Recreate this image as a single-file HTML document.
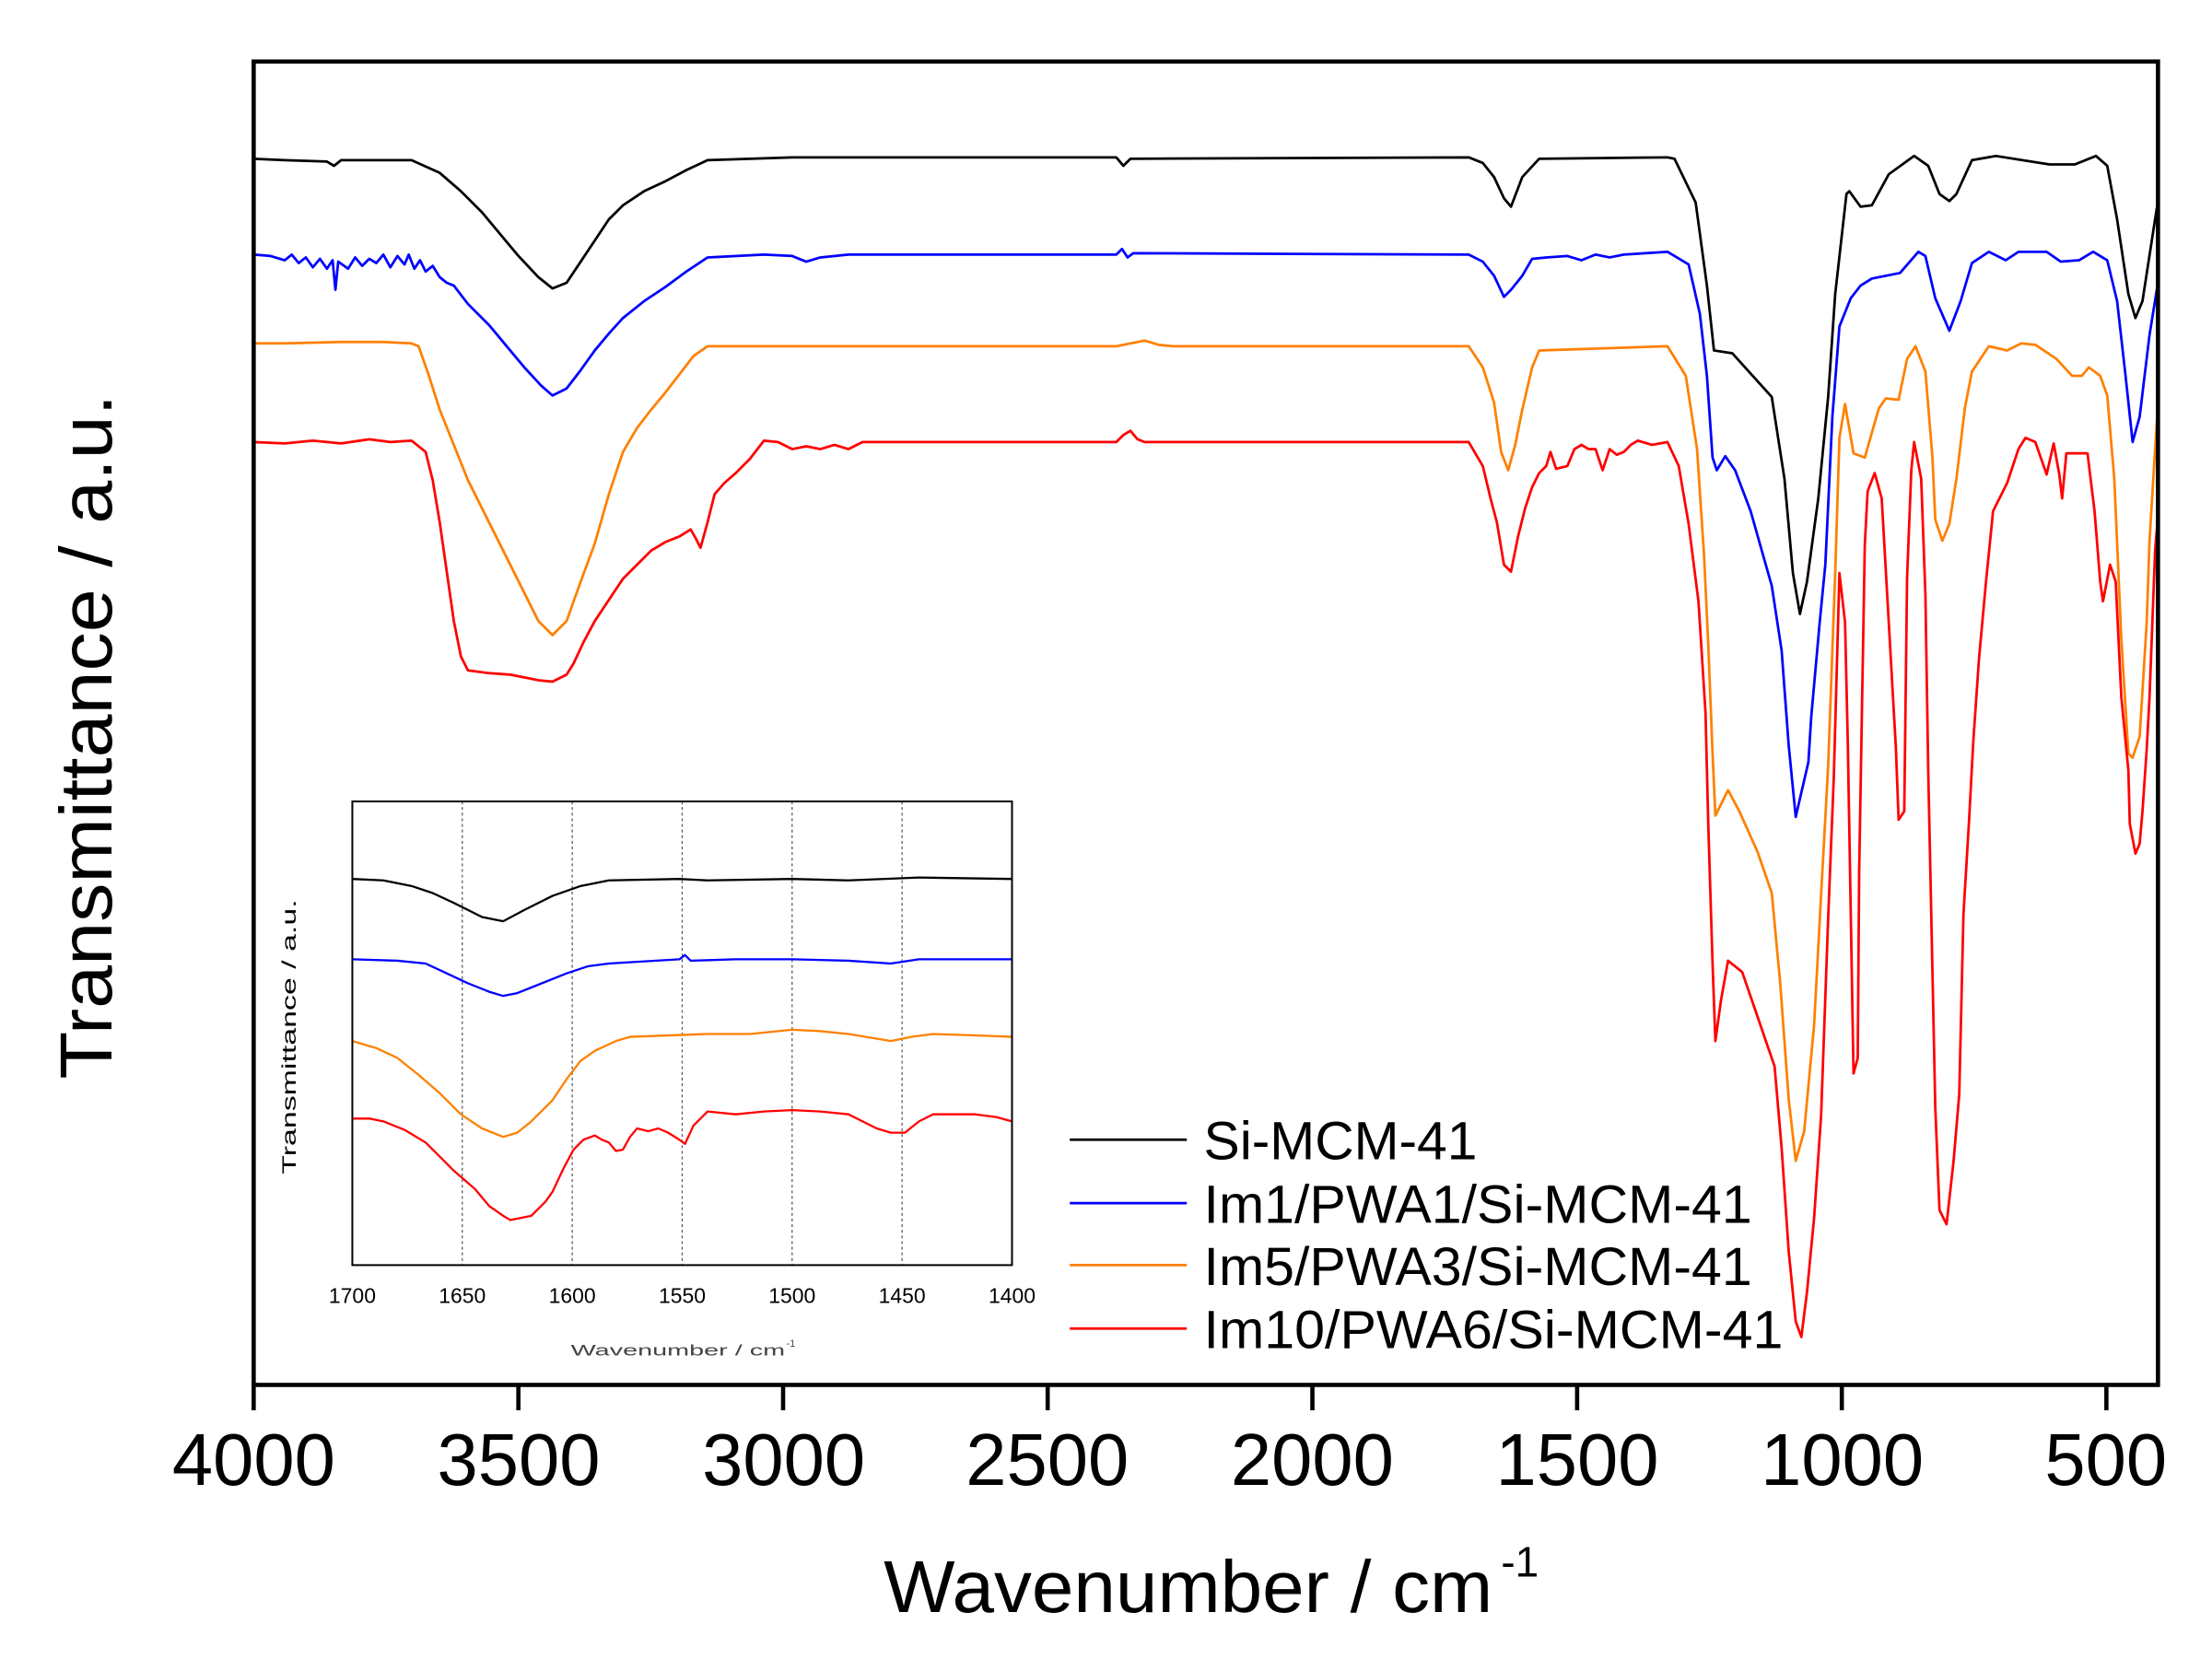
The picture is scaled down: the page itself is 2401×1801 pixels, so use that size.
<!DOCTYPE html>
<html><head><meta charset="utf-8"><style>
html,body{margin:0;padding:0;background:#fff}
svg{display:block}
text{font-family:"Liberation Sans",Arial,sans-serif}
</style></head><body>
<svg width="2401" height="1801" viewBox="0 0 2401 1801" xmlns="http://www.w3.org/2000/svg">
<defs><clipPath id="pc"><rect x="178" y="43" width="1351" height="939"/></clipPath></defs>
<g transform="translate(3,1) scale(1.53)">
<g clip-path="url(#pc)" fill="none" stroke-width="1.8" stroke-linejoin="round">
<polyline stroke="#000" points="178,112 200,113 230,114 235,117 240,113 290,113 310,122 325,135 340,150 365,180 380,196 390,204 400,200 410,185 420,170 430,155 440,145 455,135 470,128 485,120 500,113 560,111 790,111 795,117 800,112 1040,111 1050,115 1058,125 1065,140 1070,146 1078,125 1090,112 1181,111 1186,112 1201,143 1209,202 1214,248 1227,250 1255,281 1264,339 1270,406 1275,435 1280,412 1288,353 1295,281 1300,208 1308,137 1310,135 1318,146 1326,145 1338,123 1356,110 1366,117 1374,137 1381,142 1386,137 1397,113 1414,110 1452,116 1470,116 1485,110 1493,117 1500,155 1508,208 1513,225 1518,213 1526,161 1531,129"/>
<polyline stroke="#0000ff" points="178,180 190,181 200,184 205,180 210,186 215,182 220,189 225,183 230,190 234,184 236,205 238,185 245,190 250,182 255,188 260,183 265,186 270,180 275,189 280,181 285,187 288,180 292,190 296,184 300,192 305,188 310,196 315,200 320,202 330,215 345,230 360,248 370,260 382,273 390,280 400,275 410,262 420,248 430,236 440,225 455,213 470,203 485,192 500,182 540,180 560,181 570,185 580,182 600,180 790,180 794,176 798,182 802,179 1040,180 1050,185 1058,195 1065,210 1070,205 1078,195 1085,183 1095,182 1110,181 1120,184 1130,180 1140,182 1150,180 1181,178 1196,187 1204,222 1209,266 1213,324 1216,333 1222,323 1229,333 1240,362 1255,415 1262,461 1267,528 1272,579 1281,540 1283,508 1289,441 1293,400 1298,295 1303,231 1311,211 1318,202 1326,197 1346,193 1359,178 1364,181 1371,211 1381,234 1389,213 1397,186 1409,178 1421,184 1430,178 1450,178 1460,185 1473,184 1483,178 1493,184 1500,213 1506,266 1511,313 1516,295 1523,237 1532,181"/>
<polyline stroke="#ff8000" points="178,243 200,243 240,242 270,242 290,243 295,245 302,265 310,290 320,315 330,340 345,370 360,400 370,420 380,440 390,450 400,440 410,412 420,385 430,350 440,320 450,303 460,290 470,278 480,265 490,252 500,245 560,245 790,245 800,243 810,241 820,244 830,245 1040,245 1050,260 1058,285 1063,320 1068,333 1073,315 1078,290 1085,260 1090,248 1181,245 1194,266 1202,318 1207,394 1210,458 1213,534 1215,578 1224,560 1232,575 1245,604 1255,633 1261,697 1267,779 1272,823 1278,802 1285,727 1291,616 1295,543 1300,406 1303,310 1307,286 1313,321 1321,324 1331,289 1336,282 1345,283 1351,254 1357,245 1364,263 1369,324 1371,368 1376,383 1381,371 1386,339 1392,289 1397,263 1409,245 1422,248 1432,243 1442,244 1457,254 1468,266 1475,266 1480,260 1488,266 1493,280 1498,339 1503,453 1508,534 1511,537 1516,522 1521,441 1523,383 1528,301 1532,254"/>
<polyline stroke="#ff0000" points="178,313 200,314 220,312 240,314 260,311 275,313 290,312 300,320 305,340 310,370 315,405 320,440 325,465 330,475 345,477 360,478 370,480 380,482 390,483 400,478 405,470 412,455 420,440 430,425 440,410 450,400 460,390 470,384 480,380 488,375 492,382 495,388 500,370 505,350 512,342 520,335 530,325 540,312 550,313 560,318 570,316 580,318 590,315 600,318 610,313 620,313 790,313 795,308 800,305 805,311 810,313 1040,313 1050,330 1056,355 1060,370 1065,400 1070,405 1075,380 1080,360 1085,345 1090,335 1095,330 1098,320 1102,332 1110,330 1115,318 1120,315 1125,318 1130,318 1135,333 1140,318 1145,322 1150,320 1155,315 1160,312 1170,315 1181,313 1189,330 1196,371 1203,426 1208,505 1210,586 1213,683 1215,738 1219,709 1224,681 1234,689 1245,721 1257,756 1262,814 1267,887 1272,937 1276,948 1280,916 1285,864 1290,791 1295,651 1299,551 1303,406 1307,441 1309,529 1311,645 1313,761 1316,750 1317,618 1321,386 1323,348 1328,335 1333,353 1338,441 1343,529 1345,581 1349,575 1351,409 1354,333 1356,313 1361,339 1364,421 1366,546 1369,689 1371,785 1374,858 1379,868 1384,823 1388,776 1391,648 1395,581 1398,525 1402,467 1407,412 1412,362 1422,342 1430,318 1435,310 1442,313 1450,336 1455,314 1459,336 1461,353 1464,321 1479,321 1484,362 1488,412 1490,426 1495,400 1499,412 1503,494 1508,546 1509,584 1513,605 1516,598 1518,575 1521,531 1523,494 1527,389 1530,354 1533,319"/>
</g>
<rect x="178" y="43" width="1351" height="939" fill="none" stroke="#000" stroke-width="3"/>
<g stroke="#000" stroke-width="3">
<line x1="178" y1="982" x2="178" y2="1000"/><line x1="365.8" y1="982" x2="365.8" y2="1000"/><line x1="553.6" y1="982" x2="553.6" y2="1000"/><line x1="741.3" y1="982" x2="741.3" y2="1000"/><line x1="929.1" y1="982" x2="929.1" y2="1000"/><line x1="1116.9" y1="982" x2="1116.9" y2="1000"/><line x1="1304.7" y1="982" x2="1304.7" y2="1000"/><line x1="1492.4" y1="982" x2="1492.4" y2="1000"/>
</g>
<g font-size="52" text-anchor="middle" fill="#000">
<text x="178" y="1053">4000</text><text x="366" y="1053">3500</text><text x="554" y="1053">3000</text><text x="741" y="1053">2500</text><text x="929" y="1053">2000</text><text x="1117" y="1053">1500</text><text x="1305" y="1053">1000</text><text x="1492" y="1053">500</text>
</g>
<text x="625" y="1143" font-size="52" textLength="432" lengthAdjust="spacingAndGlyphs">Wavenumber / cm</text>
<text x="1063" y="1118" font-size="30">-1</text>
<text transform="translate(77,522) rotate(-90)" font-size="52" text-anchor="middle" textLength="486" lengthAdjust="spacingAndGlyphs">Transmittance / a.u.</text>
<g stroke-width="1.8">
<line x1="757" y1="808" x2="840" y2="808" stroke="#000"/>
<line x1="757" y1="853" x2="840" y2="853" stroke="#0000ff"/>
<line x1="757" y1="897" x2="840" y2="897" stroke="#ff8000"/>
<line x1="757" y1="942" x2="840" y2="942" stroke="#ff0000"/>
</g>
<g font-size="38" fill="#000">
<text x="852" y="822" textLength="194" lengthAdjust="spacingAndGlyphs">Si-MCM-41</text>
<text x="852" y="867" textLength="389" lengthAdjust="spacingAndGlyphs">Im1/PWA1/Si-MCM-41</text>
<text x="852" y="911" textLength="389" lengthAdjust="spacingAndGlyphs">Im5/PWA3/Si-MCM-41</text>
<text x="852" y="956" textLength="411" lengthAdjust="spacingAndGlyphs">Im10/PWA6/Si-MCM-41</text>
</g>
<rect x="248" y="568" width="468" height="329" fill="#fff"/>
<g stroke="#555" stroke-width="0.8" stroke-dasharray="2,2">
<line x1="326" y1="568" x2="326" y2="897"/><line x1="404" y1="568" x2="404" y2="897"/><line x1="482" y1="568" x2="482" y2="897"/><line x1="560" y1="568" x2="560" y2="897"/><line x1="638" y1="568" x2="638" y2="897"/>
</g>
<g fill="none" stroke-width="1.5" stroke-linejoin="round">
<polyline stroke="#000" points="248,623 270,624 290,628 305,633 320,640 340,650 355,653 370,645 390,635 410,628 430,624 480,623 500,624 560,623 600,624 650,622 716,623"/>
<polyline stroke="#0000ff" points="248,680 280,681 300,683 315,690 330,697 345,703 355,706 365,704 375,700 390,694 400,690 415,685 430,683 480,680 484,677 488,681 520,680 560,680 600,681 630,683 650,680 716,680"/>
<polyline stroke="#ff8000" points="248,738 265,743 280,750 295,762 310,775 325,790 340,800 355,806 365,803 375,795 390,780 400,765 410,752 420,745 435,738 445,735 500,733 530,733 560,730 580,731 600,733 630,738 645,735 660,733 690,734 716,735"/>
<polyline stroke="#ff0000" points="248,793 260,793 270,795 285,801 300,810 310,820 320,830 335,843 345,855 355,862 360,865 375,862 385,852 390,845 398,828 405,815 412,808 420,805 425,808 430,810 435,816 440,815 445,806 450,800 458,802 465,800 472,803 480,808 484,811 490,798 500,788 520,790 540,788 560,787 580,788 600,790 610,795 620,800 630,803 640,803 650,795 660,790 690,790 705,792 716,795"/>
</g>
<rect x="248" y="568" width="468" height="329" fill="none" stroke="#000" stroke-width="1.3"/>
<g font-size="15" text-anchor="middle" fill="#000">
<text x="248" y="924">1700</text><text x="326" y="924">1650</text><text x="404" y="924">1600</text><text x="482" y="924">1550</text><text x="560" y="924">1500</text><text x="638" y="924">1450</text><text x="716" y="924">1400</text>
</g>
<text x="403" y="961" font-size="11" fill="#444" textLength="152" lengthAdjust="spacingAndGlyphs">Wavenumber / cm</text>
<text x="556" y="955" font-size="7" fill="#444">-1</text>
<text transform="translate(208,735) rotate(-90)" font-size="14" text-anchor="middle" textLength="195" lengthAdjust="spacingAndGlyphs">Transmittance / a.u.</text>
</g>
</svg>
</body></html>
